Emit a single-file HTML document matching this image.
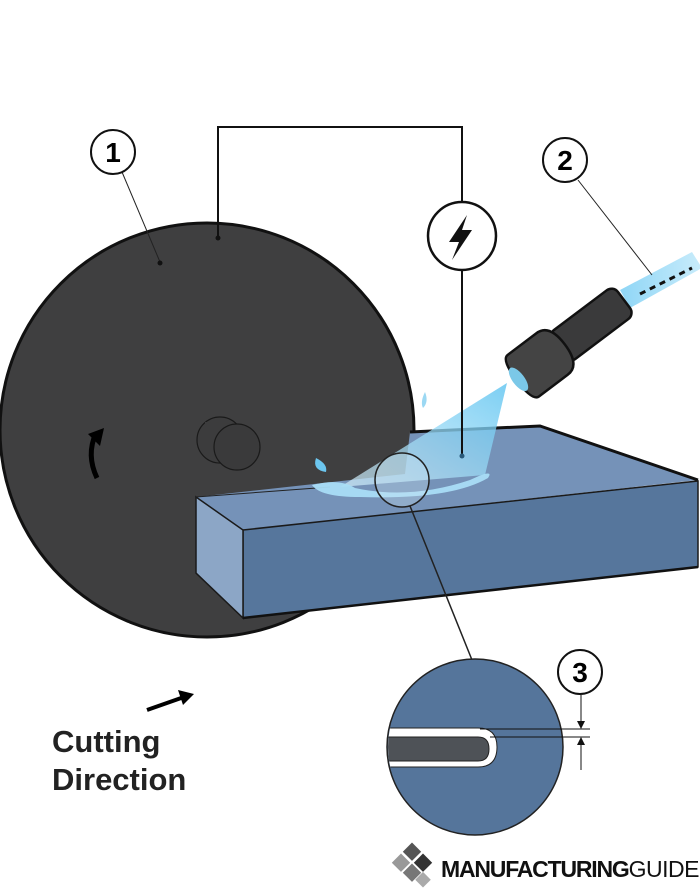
<!DOCTYPE html>
<html><head><style>
html,body{margin:0;padding:0;background:#fff;width:700px;height:890px;overflow:hidden}
svg{display:block}
</style></head><body>
<svg width="700" height="890" viewBox="0 0 700 890" xmlns="http://www.w3.org/2000/svg" font-family="Liberation Sans, sans-serif">
<defs>
<linearGradient id="spray" x1="1" y1="0" x2="0" y2="1">
<stop offset="0" stop-color="#5cc3f0" stop-opacity="0.95"/>
<stop offset="1" stop-color="#d8f1fc" stop-opacity="0.8"/>
</linearGradient>
<linearGradient id="jet" x1="0" y1="0" x2="1" y2="0">
<stop offset="0" stop-color="#8fd6f6"/><stop offset="1" stop-color="#c9ecfb"/>
</linearGradient>
</defs>
<!-- wheel -->
<circle cx="207" cy="430" r="207" fill="#3f3f40" stroke="#111" stroke-width="3"/>
<!-- hub -->
<g stroke="#1a1a1a" stroke-width="1.2">
<circle cx="220" cy="440" r="23" fill="#3c3c3d"/>
<polygon points="205,422 222,423 237,424 237,470 225,460 205,455" fill="#3c3c3d" stroke="none"/>
<circle cx="237" cy="447" r="23" fill="#3a3a3b"/>
</g>
<!-- rotation arrow -->
<path d="M97 478 Q86 455 96 433" fill="none" stroke="#000" stroke-width="5"/>
<polygon points="88,434 104,428 100,446" fill="#000"/>
<!-- block -->
<polygon points="196,497 405,474 410,432 540,426 698,480 243,530" fill="#7592b8"/>
<polyline points="410,432 540,426 698,480" fill="none" stroke="#111" stroke-width="3"/>
<polygon points="243,530 698,481 698,567 243,618" fill="#56769c" stroke="#1a1a1a" stroke-width="1.5"/>
<polygon points="196,497 243,530 243,618 196,573" fill="#8ca6c6" stroke="#1a1a1a" stroke-width="1.5"/>
<line x1="196" y1="497" x2="330" y2="487" stroke="#222" stroke-width="1"/>
<line x1="243" y1="618" x2="698" y2="567" stroke="#111" stroke-width="2.5"/>
<!-- spray -->
<polygon points="507,383 340,487 485,475" fill="url(#spray)" opacity="0.85"/>
<path d="M312 485 Q340 478 355 488 Q410 500 470 480 Q495 468 488 478 Q450 500 360 497 Q320 497 312 485Z" fill="#a9ddf5" opacity="0.95"/>
<path d="M316 458 q12 6 10 14 q-14 -2 -10 -14Z" fill="#6cc6ef"/>
<path d="M425 392 q-5 10 -2 16 q6 -6 2 -16Z" fill="#9bd8f3"/>
<!-- wire -->
<polyline points="218,237 218,127 462,127 462,455" fill="none" stroke="#111" stroke-width="2"/>
<circle cx="218" cy="238" r="2.5" fill="#111"/>
<circle cx="462" cy="456" r="2.5" fill="#2a5a7a"/>
<circle cx="462" cy="236" r="34" fill="#fff" stroke="#111" stroke-width="2.5"/>
<polygon points="467,215 449,242 459,242 452,260 472,230 462,230" fill="#111"/>
<!-- jet and nozzle -->
<polygon points="620,290 692,252 702,268 630,308" fill="url(#jet)"/>
<line x1="640" y1="294" x2="692" y2="268" stroke="#111" stroke-width="3" stroke-dasharray="6,5"/>
<g transform="translate(568,342) rotate(-37)">
<rect x="-12" y="-18" width="82" height="36" rx="8" fill="#3a3a3b" stroke="#111" stroke-width="2.5"/>
<path d="M-56 -26 L-20 -26 Q-4 -26 -4 0 Q-4 26 -20 26 L-56 26 Q-64 26 -64 0 Q-64 -26 -56 -26Z" fill="#444" stroke="#111" stroke-width="2.5"/>
<ellipse cx="-62" cy="0" rx="6" ry="14" fill="#7bc8e8"/>
</g>
<!-- callouts -->
<line x1="122" y1="172" x2="160" y2="262" stroke="#222" stroke-width="1"/>
<circle cx="160" cy="263" r="2.5" fill="#111"/>
<circle cx="113" cy="152" r="22" fill="#fff" stroke="#111" stroke-width="2"/>
<text x="113" y="162" font-size="28" font-weight="bold" text-anchor="middle">1</text>
<line x1="578" y1="180" x2="652" y2="275" stroke="#222" stroke-width="1"/>
<circle cx="565" cy="160" r="22" fill="#fff" stroke="#111" stroke-width="2"/>
<text x="565" y="170" font-size="28" font-weight="bold" text-anchor="middle">2</text>
<!-- magnifier -->
<circle cx="402" cy="480" r="27" fill="#cfe8f5" fill-opacity="0.3" stroke="#222" stroke-width="1.5"/>
<line x1="410" y1="506" x2="472" y2="660" stroke="#222" stroke-width="1.5"/>
<circle cx="475" cy="747" r="88" fill="#55759b" stroke="#222" stroke-width="1.5"/>
<clipPath id="mc"><circle cx="475" cy="747" r="87"/></clipPath>
<g clip-path="url(#mc)">
<path d="M380 728 H478 Q497 728 497 747 Q497 767 478 767 H380Z" fill="#fff" stroke="#222" stroke-width="1"/>
<path d="M380 737 H478 Q489 737 489 749 Q489 761 478 761 H380Z" fill="#4e5257" stroke="#222" stroke-width="1"/>
</g>
<line x1="480" y1="729" x2="590" y2="729" stroke="#111" stroke-width="1"/>
<line x1="490" y1="737" x2="590" y2="737" stroke="#111" stroke-width="1"/>
<line x1="581" y1="695" x2="581" y2="726" stroke="#111" stroke-width="1"/>
<polygon points="577,721 585,721 581,729" fill="#111"/>
<line x1="581" y1="742" x2="581" y2="770" stroke="#111" stroke-width="1"/>
<polygon points="577,745 585,745 581,737" fill="#111"/>
<circle cx="580" cy="672" r="22" fill="#fff" stroke="#111" stroke-width="2"/>
<text x="580" y="682" font-size="28" font-weight="bold" text-anchor="middle">3</text>
<!-- cutting direction -->
<line x1="147" y1="710" x2="184" y2="697" stroke="#000" stroke-width="4"/>
<polygon points="194,694 178,690 183,705" fill="#000"/>
<text x="52" y="752" font-size="31" font-weight="bold" fill="#222">Cutting</text>
<text x="52" y="790" font-size="31" font-weight="bold" fill="#222">Direction</text>
<!-- logo -->
<g>
<rect x="395" y="856" width="13" height="13" fill="#999" transform="rotate(45 401 862)"/>
<rect x="406" y="845" width="13" height="13" fill="#555" transform="rotate(45 412 851)"/>
<rect x="417" y="856" width="13" height="13" fill="#333" transform="rotate(45 423 862)"/>
<rect x="406" y="866" width="13" height="13" fill="#777" transform="rotate(45 412 872)"/>
<rect x="418" y="874" width="11" height="11" fill="#aaa" transform="rotate(45 423 879)"/>
</g>
<text x="441" y="877" font-size="23" font-weight="bold" fill="#111" letter-spacing="-1.2">MANUFACTURING<tspan font-weight="normal" letter-spacing="-0.5">GUIDE</tspan></text>
</svg>
</body></html>
